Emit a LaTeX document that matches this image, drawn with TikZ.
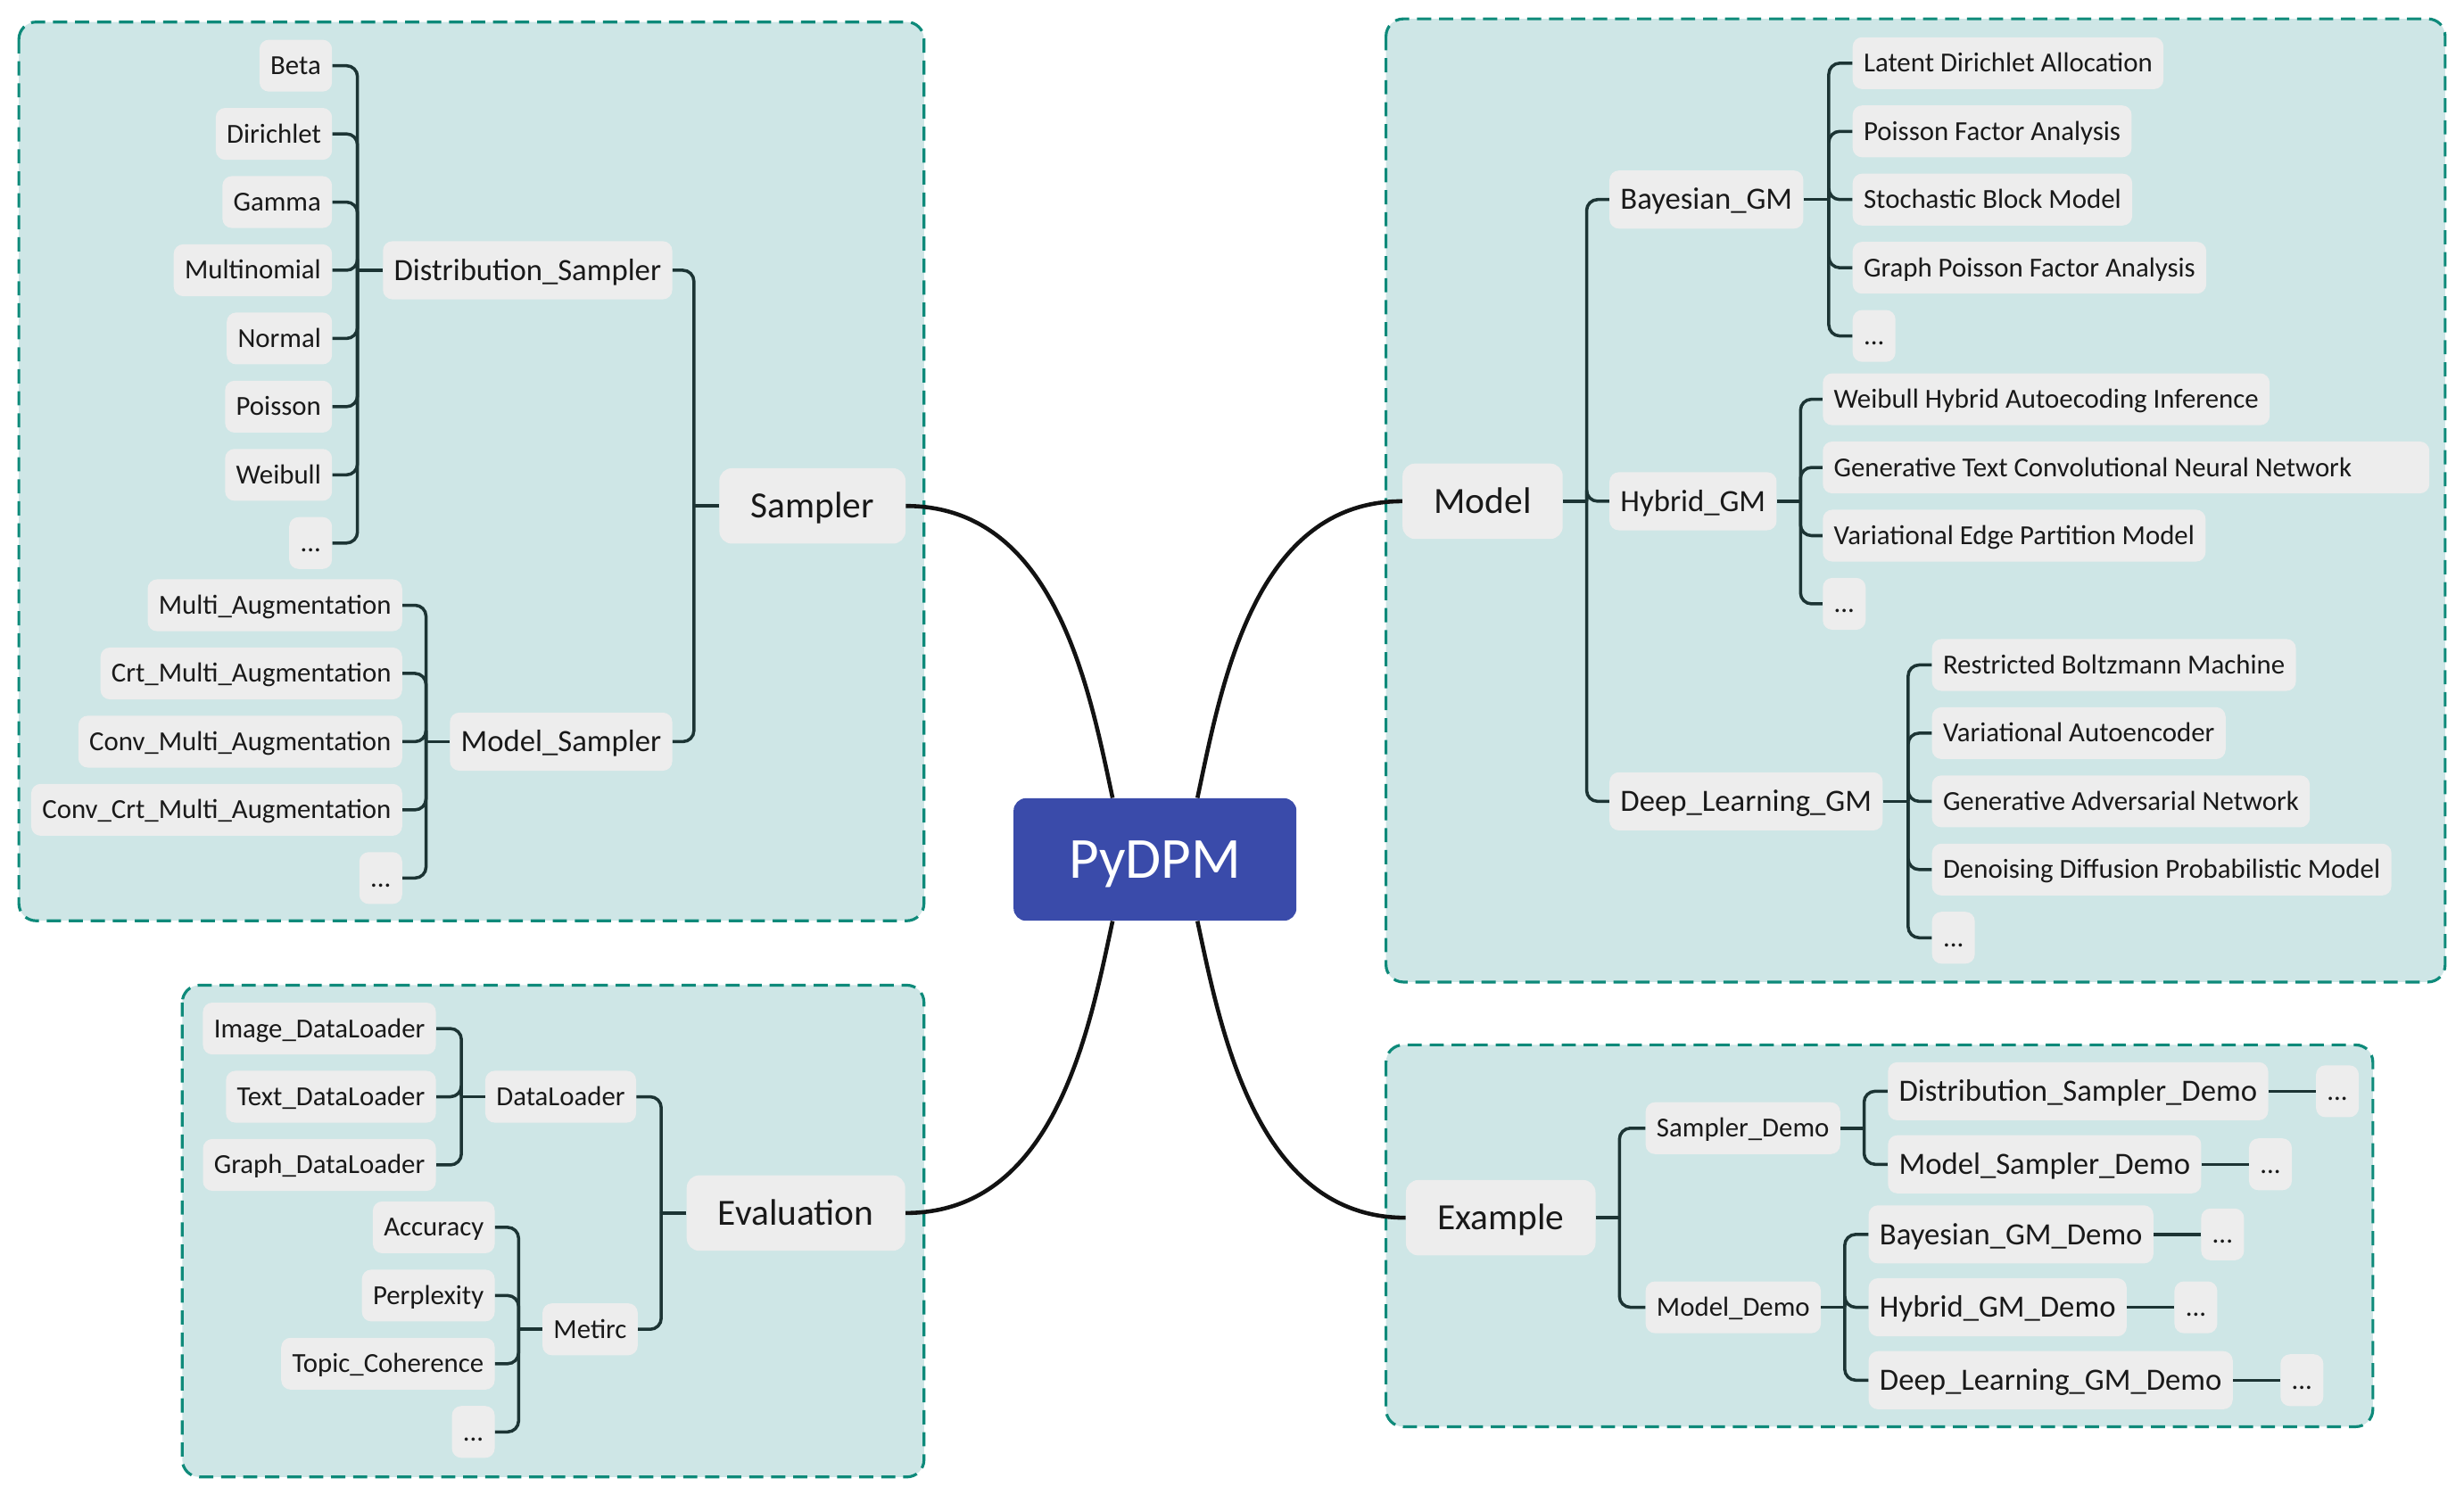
\documentclass[tikz,border=0pt]{standalone}
\usepackage{fontspec}
\setmainfont{Carlito}
\usetikzlibrary{positioning}

\definecolor{groupfill}{RGB}{206,230,230}
\definecolor{groupline}{RGB}{14,138,122}
\definecolor{nodefill}{RGB}{237,237,237}
\definecolor{rootfill}{RGB}{58,75,170}
\definecolor{branchline}{RGB}{28,52,52}

\tikzset{
  leaf/.style={fill=nodefill, text=black!90, rounded corners=6pt,
    font=\fontsize{17.5}{20}\selectfont, minimum height=33pt,
    inner xsep=7pt, inner ysep=0pt, text height=11.3pt, text depth=0pt},
  sub/.style={leaf, font=\fontsize{19.7}{23}\selectfont,
    minimum height=37pt, text height=12.7pt},
  main/.style={leaf, font=\fontsize{23.5}{27}\selectfont,
    minimum height=48pt, inner xsep=20pt, rounded corners=8pt, text height=15.1pt},
  rootbox/.style={fill=rootfill, text=white, rounded corners=8pt,
    font=\fontsize{37}{42}\selectfont, minimum width=180pt, minimum height=78pt,
    text height=23.8pt, text depth=0pt},
  groupbox/.style={draw=groupline, fill=groupfill, line width=1.8pt,
    dash pattern=on 9pt off 5pt, rounded corners=11pt},
  branch/.style={draw=branchline, line width=2pt, rounded corners=7pt},
  trunk/.style={draw=black!93, line width=2.6pt},
}

\begin{document}
\begin{tikzpicture}[x=1pt, y=-1pt]
            \useasboundingbox (0,0) rectangle (1568,951);

            % groups
            \draw [groupbox] (12,14) rectangle (588,586);
            \draw [groupbox] (116,627) rectangle (588,940);
            \draw [groupbox] (882,12) rectangle (1556,625);
            \draw [groupbox] (882,665) rectangle (1510,908);

            \node [rootbox] (pydpm) at (735,547) {PyDPM};

            % Sampler
            \node [main] (sampler) at (517,322) {Sampler};
            \node [sub, anchor=east] (dsamp) at (428,172) {Distribution\_Sampler};
            \node [sub, anchor=east] (msamp) at (428,472) {Model\_Sampler};

            \node [leaf, left=32pt of dsamp] (multinomial) {Multinomial};
            \node [leaf, above left=10pt and 0pt of multinomial.north east] (gamma) {Gamma};
            \node [leaf, above left=10pt and 0pt of gamma.north east] (dirichlet) {Dirichlet};
            \node [leaf, above left=10pt and 0pt of dirichlet.north east] (beta) {Beta};
            \node [leaf, below left=10pt and 0pt of multinomial.south east] (normal) {Normal};
            \node [leaf, below left=10pt and 0pt of normal.south east] (poisson) {Poisson};
            \node [leaf, below left=10pt and 0pt of poisson.south east] (weibull) {Weibull};
            \node [leaf, below left=10pt and 0pt of weibull.south east] (distdots) {...};

            \node [leaf, left=30pt of msamp] (convmulti) {Conv\_Multi\_Augmentation};
            \node [leaf, above left=10pt and 0pt of convmulti.north east] (crtmulti) {Crt\_Multi\_Augmentation};
            \node [leaf, above left=10pt and 0pt of crtmulti.north east] (multi) {Multi\_Augmentation};
            \node [leaf, below left=10pt and 0pt of convmulti.south east] (convcrt) {Conv\_Crt\_Multi\_Augmentation};
            \node [leaf, below left=10pt and 0pt of convcrt.south east] (augdots) {...};

            % Evaluation
            \node [main] (evaluation) at (506.5,772) {Evaluation};
            \node [leaf, anchor=east] (dataloader) at (405,698) {DataLoader};
            \node [leaf, anchor=east] (metirc) at (406,846) {Metirc};

            \node [leaf, left=31pt of dataloader] (textdl) {Text\_DataLoader};
            \node [leaf, above left=10pt and 0pt of textdl.north east] (imagedl) {Image\_DataLoader};
            \node [leaf, below left=10pt and 0pt of textdl.south east] (graphdl) {Graph\_DataLoader};

            \node [leaf, left=30pt of metirc, yshift=21.5pt] (perplexity) {Perplexity};
            \node [leaf, above left=10pt and 0pt of perplexity.north east] (accuracy) {Accuracy};
            \node [leaf, below left=10pt and 0pt of perplexity.south east] (coherence) {Topic\_Coherence};
            \node [leaf, below left=10pt and 0pt of coherence.south east] (metricdots) {...};

            % Model
            \node [main] (model) at (943.5,319) {Model};
            \node [sub, anchor=west] (bayes) at (1024,127) {Bayesian\_GM};
            \node [sub, anchor=west] (hybrid) at (1024,319) {Hybrid\_GM};
            \node [sub, anchor=west] (deep) at (1024,510) {Deep\_Learning\_GM};

            \node [leaf, right=31pt of bayes] (sbm) {Stochastic Block Model};
            \node [leaf, above right=10pt and 0pt of sbm.north west] (pfa) {Poisson Factor Analysis};
            \node [leaf, above right=10pt and 0pt of pfa.north west] (lda) {Latent Dirichlet Allocation};
            \node [leaf, below right=10pt and 0pt of sbm.south west] (gpfa) {Graph Poisson Factor Analysis};
            \node [leaf, below right=10pt and 0pt of gpfa.south west] (bayesdots) {...};

            \node [leaf, right=29pt of hybrid, yshift=21.5pt, align=flush left, text width=372pt] (gtcnn) {Generative Text Convolutional Neural Network};
            \node [leaf, above right=10pt and 0pt of gtcnn.north west] (whai) {Weibull Hybrid Autoecoding Inference};
            \node [leaf, below right=10pt and 0pt of gtcnn.south west] (vepm) {Variational Edge Partition Model};
            \node [leaf, below right=10pt and 0pt of vepm.south west] (hybriddots) {...};

            \node [leaf, right=31pt of deep] (gan) {Generative Adversarial Network};
            \node [leaf, above right=10pt and 0pt of gan.north west] (vae) {Variational Autoencoder};
            \node [leaf, above right=10pt and 0pt of vae.north west] (rbm) {Restricted Boltzmann Machine};
            \node [leaf, below right=10pt and 0pt of gan.south west] (ddpm) {Denoising Diffusion Probabilistic Model};
            \node [leaf, below right=10pt and 0pt of ddpm.south west] (deepdots) {...};

            % Example
            \node [main] (example) at (955,775) {Example};
            \node [leaf, anchor=west] (sdemo) at (1047,718) {Sampler\_Demo};
            \node [leaf, anchor=west] (mdemo) at (1047,832) {Model\_Demo};

            \node [sub, right=30pt of sdemo, yshift=23.5pt] (dsdemo) {Distribution\_Sampler\_Demo};
            \node [sub, right=30pt of sdemo, yshift=-23pt] (msdemo) {Model\_Sampler\_Demo};
            \node [sub, right=30pt of mdemo] (hgdemo) {Hybrid\_GM\_Demo};
            \node [sub, above right=9pt and 0pt of hgdemo.north west] (bgdemo) {Bayesian\_GM\_Demo};
            \node [sub, below right=9pt and 0pt of hgdemo.south west] (dldemo) {Deep\_Learning\_GM\_Demo};

            \node [leaf, right=30pt of dsdemo] (dsdots) {...};
            \node [leaf, right=30pt of msdemo] (msdots) {...};
            \node [leaf, right=30pt of bgdemo] (bgdots) {...};
            \node [leaf, right=30pt of hgdemo] (hgdots) {...};
            \node [leaf, right=30pt of dldemo] (dldots) {...};

            % trunk curves
            \draw [trunk] (sampler.east) .. controls +(95,0) and +(-15,-70) .. ([xshift=-27pt]pydpm.north);
            \draw [trunk] (model.west) .. controls +(-95,0) and +(15,-70) .. ([xshift=27pt]pydpm.north);
            \draw [trunk] (evaluation.east) .. controls +(95,0) and +(-15,70) .. ([xshift=-27pt]pydpm.south);
            \draw [trunk] (example.west) .. controls +(-95,0) and +(15,70) .. ([xshift=27pt]pydpm.south);

            % Sampler branches
            \draw [branch] (sampler.west) -- ([xshift=-16pt]sampler.west);
            \draw [branch] ([xshift=-16pt]sampler.west) |- (dsamp.east);
            \draw [branch] ([xshift=-16pt]sampler.west) |- (msamp.east);

            \draw [branch] (dsamp.west) -- ([xshift=-16pt]dsamp.west);
            \draw [branch] ([xshift=-16pt]dsamp.west) |- (beta.east);
            \draw [branch] ([xshift=-16pt]dsamp.west) |- (dirichlet.east);
            \draw [branch] ([xshift=-16pt]dsamp.west) |- (gamma.east);
            \draw [branch] ([xshift=-16pt]dsamp.west) |- (multinomial.east);
            \draw [branch] ([xshift=-16pt]dsamp.west) |- (normal.east);
            \draw [branch] ([xshift=-16pt]dsamp.west) |- (poisson.east);
            \draw [branch] ([xshift=-16pt]dsamp.west) |- (weibull.east);
            \draw [branch] ([xshift=-16pt]dsamp.west) |- (distdots.east);

            \draw [branch] (msamp.west) -- ([xshift=-15pt]msamp.west);
            \draw [branch] ([xshift=-15pt]msamp.west) |- (multi.east);
            \draw [branch] ([xshift=-15pt]msamp.west) |- (crtmulti.east);
            \draw [branch] ([xshift=-15pt]msamp.west) |- (convmulti.east);
            \draw [branch] ([xshift=-15pt]msamp.west) |- (convcrt.east);
            \draw [branch] ([xshift=-15pt]msamp.west) |- (augdots.east);

            % Evaluation branches
            \draw [branch] (evaluation.west) -- ([xshift=-16pt]evaluation.west);
            \draw [branch] ([xshift=-16pt]evaluation.west) |- (dataloader.east);
            \draw [branch] ([xshift=-16pt]evaluation.west) |- (metirc.east);

            \draw [branch] (dataloader.west) -- ([xshift=-15pt]dataloader.west);
            \draw [branch] ([xshift=-15pt]dataloader.west) |- (imagedl.east);
            \draw [branch] ([xshift=-15pt]dataloader.west) |- (textdl.east);
            \draw [branch] ([xshift=-15pt]dataloader.west) |- (graphdl.east);

            \draw [branch] (metirc.west) -- ([xshift=-15pt]metirc.west);
            \draw [branch] ([xshift=-15pt]metirc.west) |- (accuracy.east);
            \draw [branch] ([xshift=-15pt]metirc.west) |- (perplexity.east);
            \draw [branch] ([xshift=-15pt]metirc.west) |- (coherence.east);
            \draw [branch] ([xshift=-15pt]metirc.west) |- (metricdots.east);

            % Model branches
            \draw [branch] (model.east) -- ([xshift=15pt]model.east);
            \draw [branch] ([xshift=15pt]model.east) |- (bayes.west);
            \draw [branch] ([xshift=15pt]model.east) |- (hybrid.west);
            \draw [branch] ([xshift=15pt]model.east) |- (deep.west);

            \draw [branch] (bayes.east) -- ([xshift=16pt]bayes.east);
            \draw [branch] ([xshift=16pt]bayes.east) |- (lda.west);
            \draw [branch] ([xshift=16pt]bayes.east) |- (pfa.west);
            \draw [branch] ([xshift=16pt]bayes.east) |- (sbm.west);
            \draw [branch] ([xshift=16pt]bayes.east) |- (gpfa.west);
            \draw [branch] ([xshift=16pt]bayes.east) |- (bayesdots.west);

            \draw [branch] (hybrid.east) -- ([xshift=15pt]hybrid.east);
            \draw [branch] ([xshift=15pt]hybrid.east) |- (whai.west);
            \draw [branch] ([xshift=15pt]hybrid.east) |- (gtcnn.west);
            \draw [branch] ([xshift=15pt]hybrid.east) |- (vepm.west);
            \draw [branch] ([xshift=15pt]hybrid.east) |- (hybriddots.west);

            \draw [branch] (deep.east) -- ([xshift=16pt]deep.east);
            \draw [branch] ([xshift=16pt]deep.east) |- (rbm.west);
            \draw [branch] ([xshift=16pt]deep.east) |- (vae.west);
            \draw [branch] ([xshift=16pt]deep.east) |- (gan.west);
            \draw [branch] ([xshift=16pt]deep.east) |- (ddpm.west);
            \draw [branch] ([xshift=16pt]deep.east) |- (deepdots.west);

            % Example branches
            \draw [branch] (example.east) -- ([xshift=15pt]example.east);
            \draw [branch] ([xshift=15pt]example.east) |- (sdemo.west);
            \draw [branch] ([xshift=15pt]example.east) |- (mdemo.west);

            \draw [branch] (sdemo.east) -- ([xshift=15pt]sdemo.east);
            \draw [branch] ([xshift=15pt]sdemo.east) |- (dsdemo.west);
            \draw [branch] ([xshift=15pt]sdemo.east) |- (msdemo.west);

            \draw [branch] (mdemo.east) -- ([xshift=15pt]mdemo.east);
            \draw [branch] ([xshift=15pt]mdemo.east) |- (bgdemo.west);
            \draw [branch] ([xshift=15pt]mdemo.east) |- (hgdemo.west);
            \draw [branch] ([xshift=15pt]mdemo.east) |- (dldemo.west);

            \draw [branch] (dsdemo) -- (dsdots);
            \draw [branch] (msdemo) -- (msdots);
            \draw [branch] (bgdemo) -- (bgdots);
            \draw [branch] (hgdemo) -- (hgdots);
            \draw [branch] (dldemo) -- (dldots);
\end{tikzpicture}
\end{document}
